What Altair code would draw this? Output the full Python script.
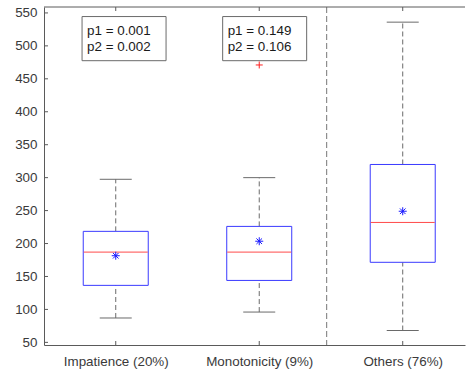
import altair as alt
import pandas as pd

# Group summaries (box-plot statistics)
categories = ["Impatience (20%)", "Monotonicity (9%)", "Others (76%)"]
lower_whisker = [87, 96, 68]
q1 = [136.5, 144, 171.5]
median = [187, 187, 232]
q3 = [218.5, 226, 320]
upper_whisker = [297.5, 300, 536]
means = [181.5, 203.5, 249]

# Outliers beyond the whiskers
outlier_group = [2]
outlier_value = [471]

# Test results shown in the annotation boxes
note_group = [0.80, 1.78]
p1_values = ["0.001", "0.149"]
p2_values = ["0.002", "0.106"]

# Divider between the tested groups and the rest
divider_x = [2.47]

y_ticks = [50, 100, 150, 200, 250, 300, 350, 400, 450, 500, 550]

W, H = 421, 338
FONT = "Liberation Sans"
AXIS_GRAY = "#5a5a5a"
WHISKER_GRAY = "#6a6a6a"
LABEL_GRAY = "#3a3a3a"

boxes = pd.DataFrame({
    "pos": [1, 2, 3],
    "category": categories,
    "lo": lower_whisker,
    "q1": q1,
    "med": median,
    "q3": q3,
    "hi": upper_whisker,
    "mean": means,
})
outliers = pd.DataFrame({"pos": outlier_group, "value": outlier_value})
notes = pd.DataFrame({
    "x": note_group,
    "line1": ["p1 = " + v for v in p1_values],
    "line2": ["p2 = " + v for v in p2_values],
})
ticks = pd.DataFrame({"v": y_ticks})
divider = pd.DataFrame({"x": divider_x})

label_expr = "[" + ",".join("'" + c + "'" for c in categories) + "][datum.value - 1]"

xs = alt.Scale(domain=[0.5, 3.434], nice=False, zero=False)
ys = alt.Scale(domain=[46, 559], nice=False, zero=False)

x_axis = alt.Axis(values=[1, 2, 3], labelExpr=label_expr, title=None, grid=False,
                  tickSize=0, labelPadding=9, labelFontSize=13.4, labelFont=FONT,
                  labelColor=LABEL_GRAY, domainColor=AXIS_GRAY, labelAngle=0,
                  labelOverlap=False, labelFlush=False)
y_axis = alt.Axis(values=y_ticks, title=None, grid=False, tickSize=0, labelPadding=7,
                  labelFontSize=13.4, labelFont=FONT, labelColor=LABEL_GRAY,
                  domainColor=AXIS_GRAY, labelOverlap=False, labelFlush=False)


def X(field):
    return alt.X(field, scale=xs, axis=x_axis)


def Y(field):
    return alt.Y(field, scale=ys, axis=y_axis)


base = alt.Chart(boxes)

whisker_up = base.mark_rule(color=WHISKER_GRAY, strokeDash=[5, 3], strokeWidth=1).encode(
    x=X("pos:Q"), y=Y("q3:Q"), y2="hi:Q")
whisker_dn = base.mark_rule(color=WHISKER_GRAY, strokeDash=[5, 3], strokeWidth=1).encode(
    x=X("pos:Q"), y=Y("lo:Q"), y2="q1:Q")
cap_hi = base.mark_rule(color=WHISKER_GRAY, strokeWidth=1, xOffset=-16, x2Offset=16).encode(
    x=X("pos:Q"), x2="pos:Q", y=Y("hi:Q"))
cap_lo = base.mark_rule(color=WHISKER_GRAY, strokeWidth=1, xOffset=-16, x2Offset=16).encode(
    x=X("pos:Q"), x2="pos:Q", y=Y("lo:Q"))
box = base.mark_rect(fill="white", stroke="#3a3aff", strokeWidth=1,
                     xOffset=-32.5, x2Offset=32.5).encode(
    x=X("pos:Q"), x2="pos:Q", y=Y("q1:Q"), y2="q3:Q")
med = base.mark_rule(color="#ff4a4a", strokeWidth=1, xOffset=-32, x2Offset=32).encode(
    x=X("pos:Q"), x2="pos:Q", y=Y("med:Q"))

asterisk = "M-1,0L1,0M0,-1L0,1M-0.7,-0.7L0.7,0.7M-0.7,0.7L0.7,-0.7"
mean_pt = base.mark_point(shape=asterisk, size=64, color="#1a1aff", filled=False,
                          strokeWidth=1, opacity=1).encode(
    x=X("pos:Q"), y=Y("mean:Q"))

plus = "M-1,0L1,0M0,-1L0,1"
out_pt = alt.Chart(outliers).mark_point(shape=plus, size=49, color="#ff2020", filled=False,
                                        strokeWidth=1, opacity=1).encode(
    x=X("pos:Q"), y=Y("value:Q"))

div = alt.Chart(divider).mark_rule(color="#777777", strokeDash=[6, 3], strokeWidth=1).encode(
    x=X("x:Q"), y=alt.value(0), y2=alt.value(H))

# Inward-pointing tick marks and the top frame line
ytick_marks = alt.Chart(ticks).mark_rule(color=AXIS_GRAY).encode(
    x=alt.value(0), x2=alt.value(4), y=Y("v:Q"))
xtick_bottom = base.mark_rule(color=AXIS_GRAY).encode(
    x=X("pos:Q"), y=alt.value(H - 4), y2=alt.value(H))
xtick_top = base.mark_rule(color=AXIS_GRAY).encode(
    x=X("pos:Q"), y=alt.value(0), y2=alt.value(4))
top_line = alt.Chart(divider).mark_rule(color=AXIS_GRAY).encode(
    x=alt.value(0), x2=alt.value(W), y=alt.value(0))

note_box = alt.Chart(notes).mark_rect(fill="white", stroke="#6a6a6a", strokeWidth=1,
                                      xOffset=-5, x2Offset=79).encode(
    x=X("x:Q"), x2="x:Q", y=alt.datum(544.5, scale=ys, axis=y_axis), y2=alt.datum(477.5))
note1 = alt.Chart(notes).mark_text(align="left", baseline="alphabetic", font=FONT,
                                   fontSize=13.4, color="#1a1a1a").encode(
    x=X("x:Q"), y=alt.datum(517, scale=ys, axis=y_axis), text="line1:N")
note2 = alt.Chart(notes).mark_text(align="left", baseline="alphabetic", font=FONT,
                                   fontSize=13.4, color="#1a1a1a").encode(
    x=X("x:Q"), y=alt.datum(492, scale=ys, axis=y_axis), text="line2:N")

chart = alt.layer(
    div, whisker_up, whisker_dn, cap_hi, cap_lo, box, med, mean_pt, out_pt,
    note_box, note1, note2, ytick_marks, xtick_bottom, xtick_top, top_line,
).properties(
    width=W, height=H,
    padding={"left": 44, "top": 7, "right": 1, "bottom": 26},
    autosize=alt.AutoSizeParams(type="none"),
    background="white",
).configure_view(stroke=None).configure_axis(labelOverlap=False)

chart.save("out.html", embed_options={"renderer": "svg", "actions": False})
